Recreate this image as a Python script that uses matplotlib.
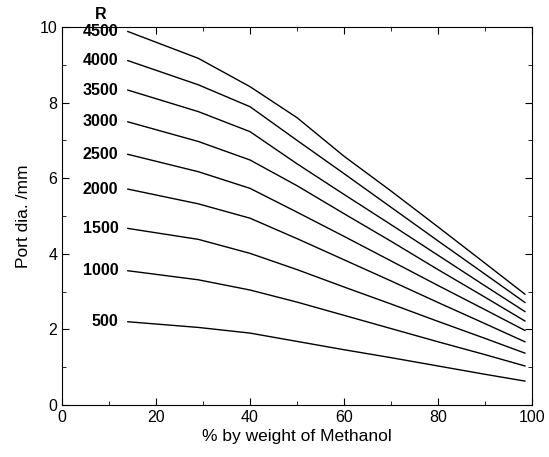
import numpy as np
import matplotlib.pyplot as plt

# methanol content (% by weight)
x = [14, 29, 40, 50, 60, 70, 80, 90, 98.5]

# ratio R -> port diameter (mm)
r_values = [4500, 4000, 3500, 3000, 2500, 2000, 1500, 1000, 500]
port_dia = [
    [9.88, 9.17, 8.42, 7.60, 6.58, 5.66, 4.71, 3.75, 2.93],
    [9.11, 8.47, 7.89, 7.00, 6.12, 5.23, 4.34, 3.46, 2.71],
    [8.33, 7.76, 7.23, 6.38, 5.57, 4.77, 3.96, 3.15, 2.47],
    [7.49, 6.97, 6.48, 5.80, 5.06, 4.33, 3.58, 2.85, 2.22],
    [6.63, 6.17, 5.73, 5.10, 4.46, 3.81, 3.16, 2.52, 1.97],
    [5.71, 5.32, 4.94, 4.40, 3.84, 3.28, 2.71, 2.15, 1.67],
    [4.67, 4.38, 4.01, 3.58, 3.12, 2.67, 2.21, 1.76, 1.37],
    [3.55, 3.31, 3.04, 2.72, 2.37, 2.02, 1.67, 1.33, 1.03],
    [2.20, 2.05, 1.90, 1.68, 1.46, 1.25, 1.03, 0.81, 0.63],
]

plt.rcParams['font.family'] = ['Liberation Sans', 'DejaVu Sans']

fig = plt.figure(figsize=(5.49, 4.57), dpi=100)
ax = fig.add_axes([0.113, 0.114, 0.856, 0.827])

for r, y in zip(r_values, port_dia):
    ax.plot(x, y, color='black', linewidth=1.0)
    ax.text(x[0] - 2.0, y[0], str(r), ha='right', va='center',
            fontsize=11.5, fontweight='bold')

ax.text(8.3, 10.12, 'R', ha='center', va='bottom', fontsize=11.5, fontweight='bold')

ax.set_xlim(0, 100)
ax.set_ylim(0, 10)
ax.set_xticks(np.arange(0, 101, 20))
ax.set_xticks(np.arange(10, 100, 20), minor=True)
ax.set_yticks(np.arange(0, 11, 2))
ax.set_yticks(np.arange(1, 10, 2), minor=True)
ax.tick_params(which='both', direction='in', top=True, right=True, labelsize=11.5)
ax.tick_params(which='major', length=5)
ax.tick_params(which='minor', length=3)

ax.set_xlabel('% by weight of Methanol', fontsize=12.5, labelpad=3)
ax.set_ylabel('Port dia. /mm', fontsize=12.5, labelpad=6)

fig.savefig('out.png', dpi=100)
